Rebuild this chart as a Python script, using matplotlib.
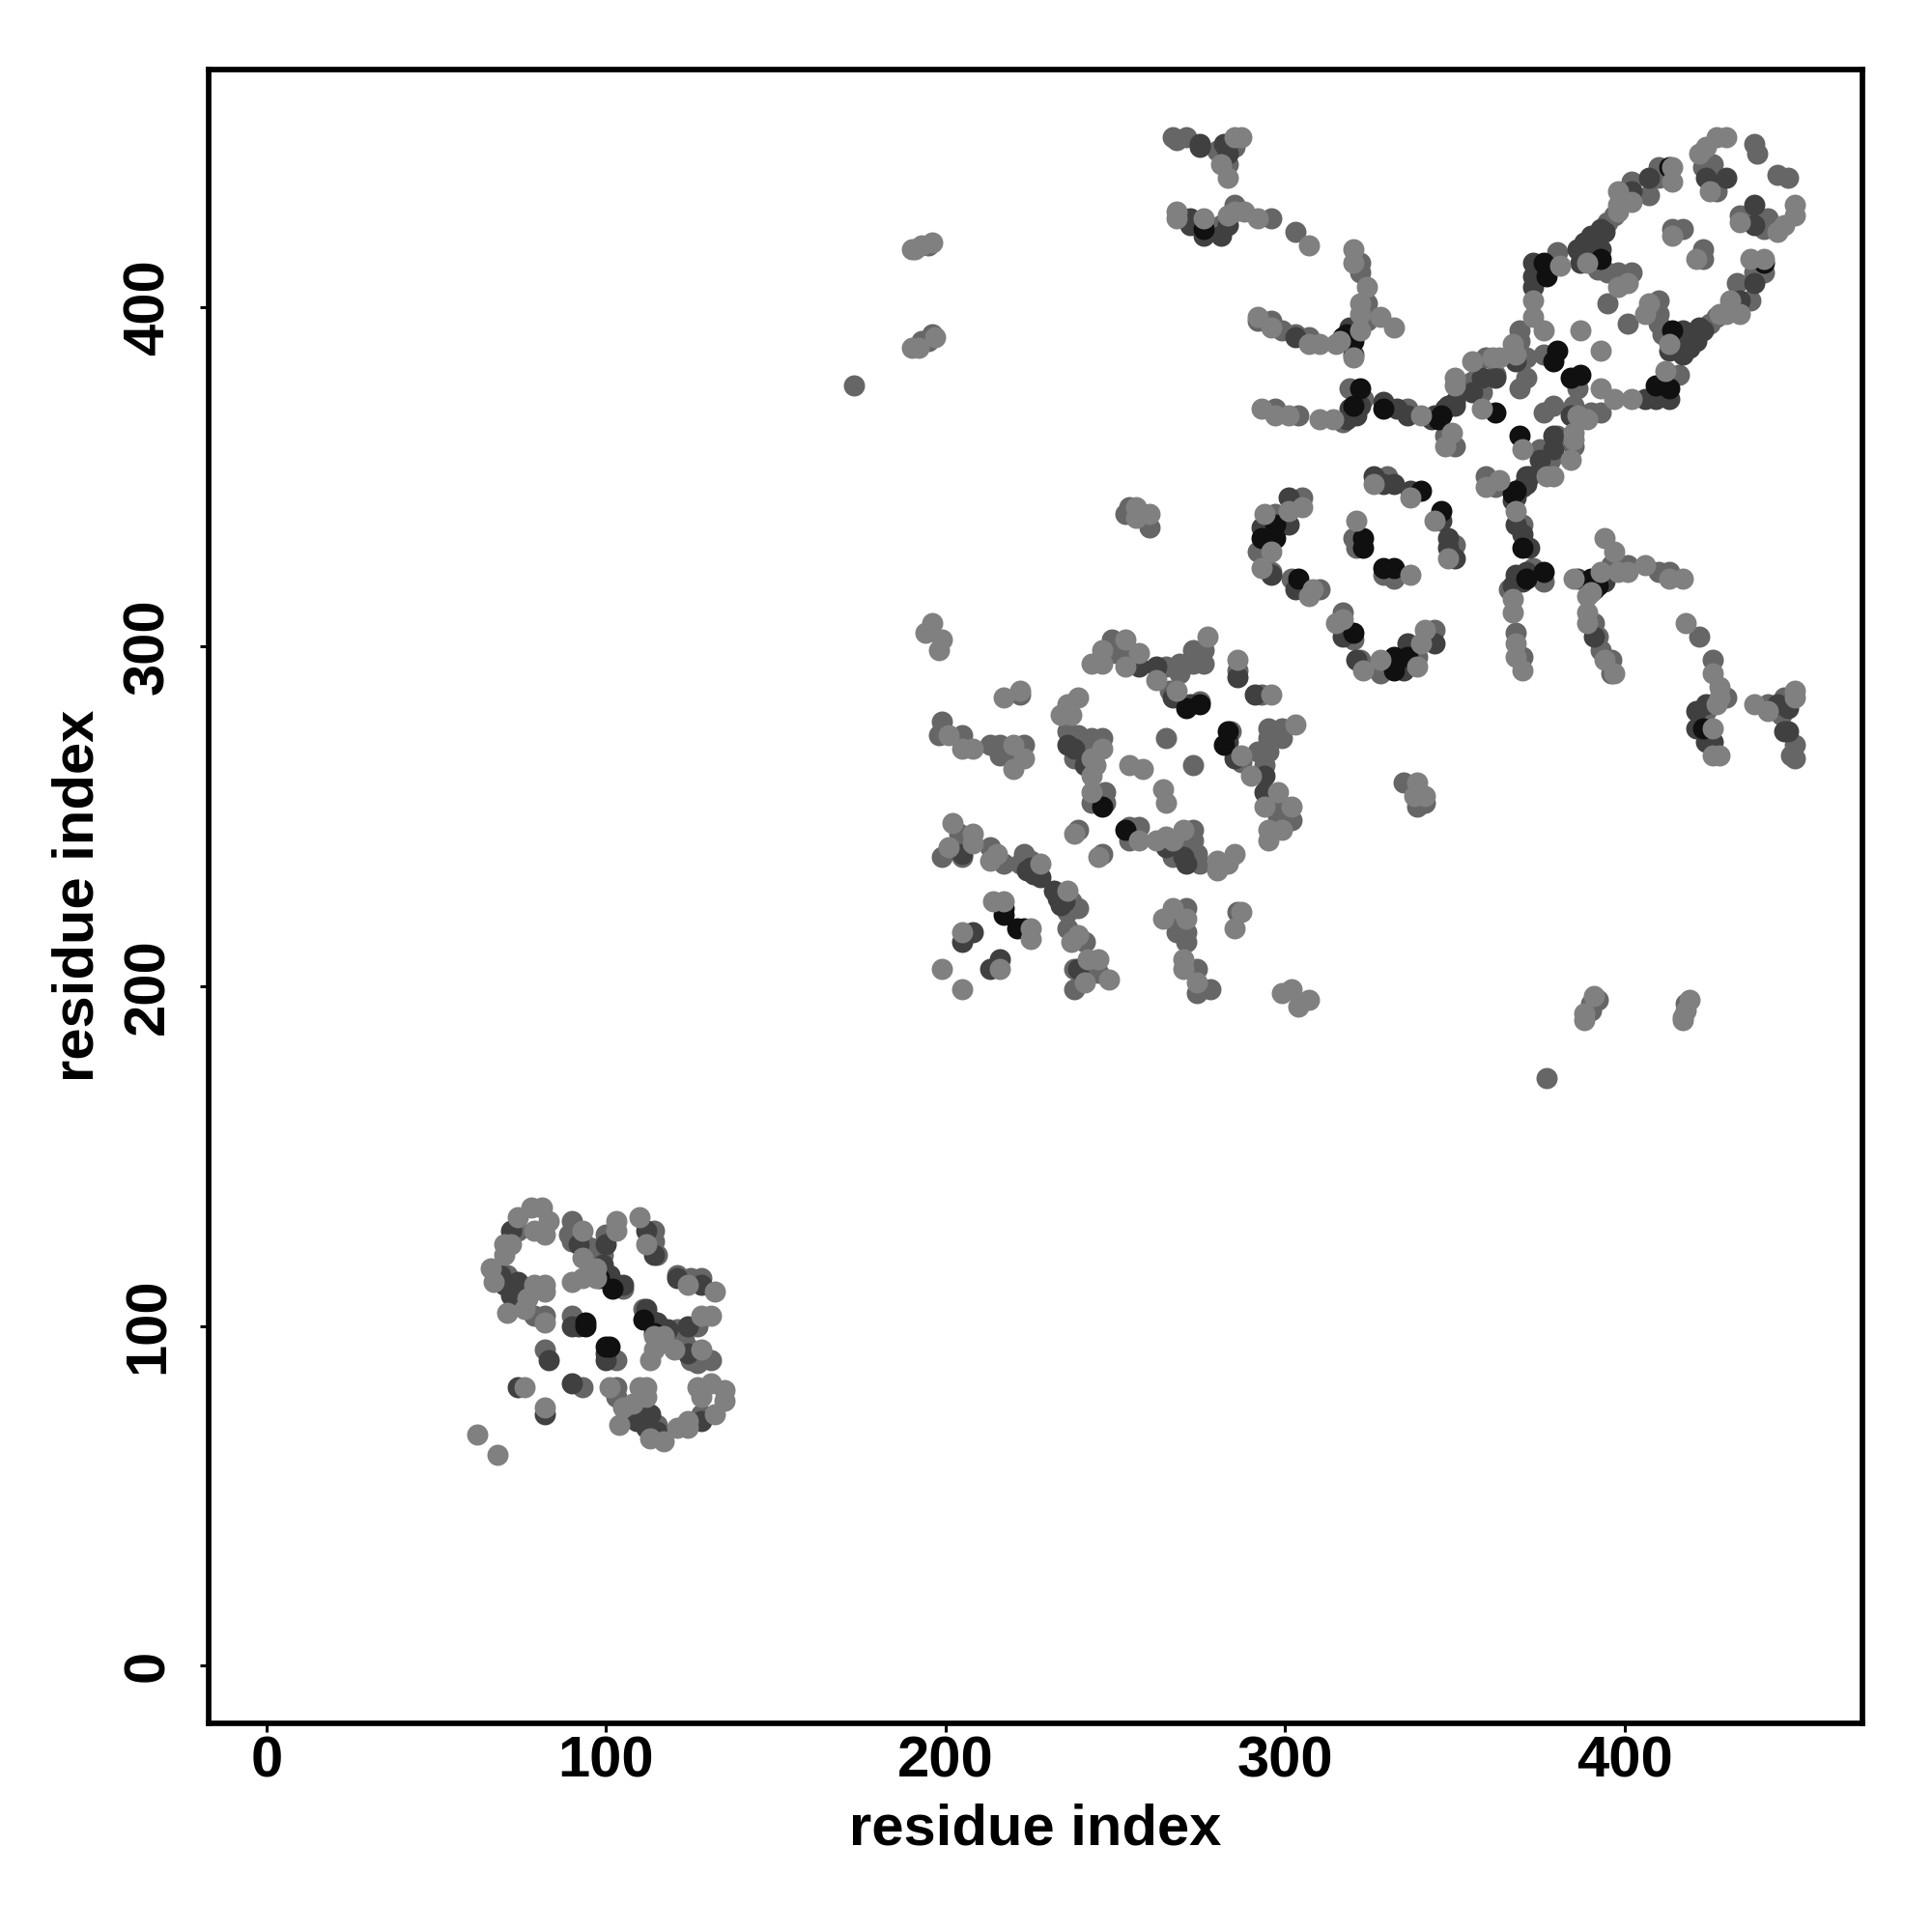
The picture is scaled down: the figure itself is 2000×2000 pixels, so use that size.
import matplotlib
matplotlib.use('Agg')
import matplotlib.pyplot as plt
import numpy as np

light_i = [62,110,112,103,103,93,93,97,90,93,97,78,81,74,83,79,82,70,72,70,66,67,77,79,82,82,71,76,82,76,
           196,194,199,198,217,222,201,205,208,220,223,220,239,236,234,237,246,243,244,243,243,254,258,243,246,253,246,253,257,262,277,268,286,202,208,201,208,213,215,228,214,217,205,199,238,
           305,301,294,296,293,308,307,321,326,337,260,256,256,
           268,268,276,285,287,281,283,288,285,283,292,307,320,320,324,322,322,328,332,322,320,316,315,292,296,307,310,293,297,301,310,314,340,350,350,349,347,355,361,358,
           363,373,373,376,367,368,381,389,387,398,398,402,398,414,414,398,401,414,430,427,424,422,425,
           191,193,196,190,190,192,197]
light_j = [68,132,124,131,128,128,120,117,113,114,114,135,135,132,131,128,127,124,124,121,117,113,108,112,112,110,104,105,101,82,
           307,304,302,299,285,287,274,270,270,271,267,264,285,283,280,280,270,267,265,262,257,265,264,295,299,302,295,294,298,290,303,287,296,248,245,241,242,237,239,236,225,225,216,205,245,
           341,340,339,328,323,317,315,337,348,344,339,338,341,
           428,426,426,450,450,442,438,428,428,427,426,418,417,413,406,401,398,397,394,393,385,390,389,397,394,389,389,370,368,368,367,367,368,379,377,363,359,384,385,370,
           385,402,397,393,389,386,412,413,393,430,434,431,428,437,441,406,407,421,450,450,447,445,434,
           417,418,419,417,388,388,391]

mid_i = [114,114,115,100,98,96,90,89,90,93,99,90,79,82,82,74,71,75,105,
         222,199,199,198,205,213,216,216,223,220,239,243,246,241,238,247,243,247,265,249,250,253,265,269,269,273,276,273,276,266,275,286,204,199,204,205,213,217,223,222,225,227,239,236,
         305,297,292,296,302,310,320,321,330,
         268,271,280,285,283,285,281,296,303,322,322,324,324,292,299,303,296,307,297,304,317,319,323,336,347,350,359,355,362,358,267,
         371,369,376,371,369,369,380,388,395,397,402,407,410,392,395,398,402,417,414,423,426,427,427,438,439,395,410,
         195,193,195,196,173,260,253,254]
mid_j = [128,125,121,127,120,123,131,127,125,125,121,103,103,103,93,128,115,110,111,
         286,278,275,274,274,271,271,268,271,267,274,273,273,270,267,257,254,254,273,302,298,298,294,295,292,299,299,295,295,287,284,293,245,238,242,238,241,236,239,236,237,234,246,275,
         344,339,328,322,320,317,332,329,350,
         449,450,446,447,442,430,424,426,422,413,410,401,396,396,393,392,396,391,370,368,366,376,373,370,362,359,385,378,380,375,450,
         379,376,386,385,393,390,416,416,425,427,437,433,441,411,410,410,410,423,423,441,442,438,434,448,445,401,438,
         418,390,390,392,377,335,339,341]

dark_i = [112,114,100,101,99,92,102,69,74,70,72,72,90,92,83,74,105,
          236,238,241,257,262,267,272,286,205,226,224,225,205,208,226,227,228,
          301,301,293,296,303,326,329,332,337,
          275,275,282,283,272,272,276,283,281,319,320,303,321,318,329,333,336,350,358,362,355,350,
          373,373,373,368,386,387,393,390,393,394,402,407,424,430,389,391,392,388,343,344,347,348,320,319,322]
dark_j = [128,121,124,115,118,124,113,115,113,112,109,128,100,100,90,82,112,
          271,270,265,294,294,285,283,291,239,233,234,235,213,216,234,233,232,
          344,336,335,321,317,350,348,348,346,
          448,447,448,445,426,424,421,424,421,394,386,391,368,367,372,370,368,372,379,379,375,371,
          413,409,406,384,417,413,417,421,423,422,434,438,438,438,418,419,420,419,367,368,370,371,369,370,371]

black_i = [98,102,94,94,
           271,275,246,217,217,
           297,293,297,304,323,323,340,
           276,318,320,322,320,329,345,346,317,
           362,380,379,376,377,393,413]
black_j = [114,111,101,100,
           282,283,253,223,221,
           336,332,332,320,332,329,346,
           423,392,390,376,371,370,367,368,391,
           369,387,384,413,409,414,441]

tick_vals = [0, 100, 200, 300, 400]

plt.rcParams['font.family'] = ['Liberation Sans', 'DejaVu Sans']
plt.rcParams['font.weight'] = 'bold'

fig = plt.figure(figsize=(20, 20), dpi=100)
ax = fig.add_axes([0.108, 0.108, 0.856, 0.85625])

# light ones sit on top of the dark ones in the reference
groups = [(mid_i, mid_j, '#666666'), (dark_i, dark_j, '#404040'), (black_i, black_j, '#101010'), (light_i, light_j, '#808080')]
for i_, j_, col in groups:
    ax.scatter(i_ + j_, j_ + i_, s=250, c=col, linewidths=0)

ax.set_xlim(-17, 470)
ax.set_ylim(-17, 470)
ax.set_xticks(tick_vals)
ax.set_yticks(tick_vals)
ax.tick_params(axis='both', length=6.5, width=2.2, labelsize=43)
ax.tick_params(axis='x', pad=2.5)
ax.tick_params(axis='y', pad=18.5)
for lab in ax.get_yticklabels():
    lab.set_rotation(90)
    lab.set_va('center')
for sp in ax.spines.values():
    sp.set_linewidth(4.1)
ax.set_xlabel('residue index', fontsize=43, fontweight='bold', labelpad=11)
ax.set_ylabel('residue index', fontsize=43, fontweight='bold', labelpad=12.5)

fig.savefig('out.png', dpi=100)
